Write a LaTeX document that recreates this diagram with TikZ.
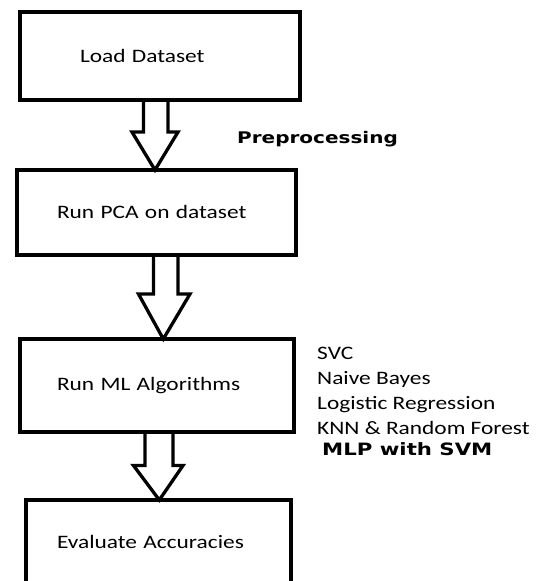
\documentclass[tikz,border=0pt]{standalone}
\usepackage{fontspec}
\setmainfont{Carlito}
\newfontfamily\stepfont{Carlito}[FakeStretch=1.23]
\newfontfamily\notefont{DejaVu Sans}[FakeStretch=1.25]
\usetikzlibrary{calc}
\tikzset{
  stage/.style={rectangle, draw, line width=4pt, outer sep=0pt, inner ysep=2pt, align=left, font=\stepfont\fontsize{19}{23}\selectfont},
  hollow/.style={line width=3.3pt, line join=miter},
  algos/.style={align=left, inner sep=0pt, font=\stepfont\fontsize{19}{24.7}\selectfont},
  remark/.style={inner sep=0pt, font=\notefont\bfseries\fontsize{16}{19}\selectfont}
}

\begin{document}
\begin{tikzpicture}[x=1pt, y=-1pt]
\path[use as bounding box, clip] (0,0) rectangle (541,581);
\node[stage, minimum width=280pt, minimum height=88pt, inner xsep=60pt, text width=160pt] (load) at (160,56) {Load Dataset};
\node[stage, minimum width=279pt, minimum height=84.5pt, inner xsep=40pt, text width=199pt] (pca) at (156.5,212.25) {Run PCA on dataset};
\node[stage, minimum width=274pt, minimum height=93pt, inner xsep=37pt, text width=200pt] (algo) at (157,385.5) {Run ML Algorithms};
\node[stage, minimum width=265pt, minimum height=84pt, inner xsep=31pt, text width=203pt] (eval) at (158.5,542) {Evaluate Accuracies};
\node[remark, anchor=base west] (prep) at (237,143.3) {Preprocessing};
\node[algos, anchor=base west] (models) at (317,455) {SVC\\Naive Bayes\\Logistic Regression\\KNN \& Random Forest\\[-3.7pt]\hspace{5pt}{\notefont\bfseries\fontsize{17}{19}\selectfont MLP with SVM}};
% block arrows between the stages
\draw[hollow] ($(load.south)+(-16.5,0)$) -- ++(0,32) -- ++(-11.5,0) -- ($(pca.north)+(-1.5,0)$) -- ($(load.south)+(18,32)$) -- ++(-10,0) -- ++(0,-32);
\draw[hollow] ($(pca.south)+(-3,0)$) -- ++(0,39.5) -- ++(-15,0) -- ($(algo.north)+(6.3,0)$) -- ($(pca.south)+(33.5,39.5)$) -- ++(-12,0) -- ++(0,-39.5);
\draw[hollow] ($(algo.south)+(-12,0)$) -- ++(0,33.5) -- ++(-11.5,0) -- ($(eval.north)+(0.8,0)$) -- ($(algo.south)+(26,33.5)$) -- ++(-10,0) -- ++(0,-33.5);
\end{tikzpicture}
\end{document}
